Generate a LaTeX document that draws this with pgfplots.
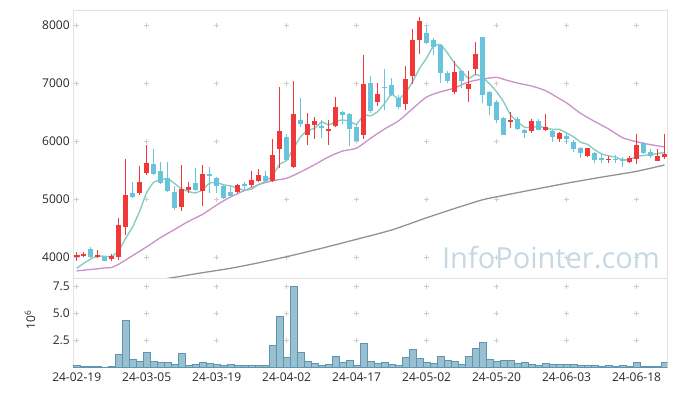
\documentclass[border=0pt]{standalone}
\usepackage{pgfplots}
\pgfplotsset{compat=1.18}
\usepackage{pgfplotstable}
\usepackage{fontspec}
\setmainfont{Open Sans}
\definecolor{upc}{RGB}{240,56,56}
\definecolor{dnc}{RGB}{104,196,218}
\definecolor{maf}{RGB}{136,204,194}
\definecolor{mam}{RGB}{204,144,200}
\definecolor{mal}{RGB}{146,146,146}
\definecolor{volf}{RGB}{152,192,208}
\definecolor{vole}{RGB}{95,150,175}
\definecolor{framec}{RGB}{226,226,226}
\definecolor{gridc}{RGB}{205,205,205}
\definecolor{wm}{RGB}{198,216,226}
\definecolor{txt}{RGB}{40,40,40}

\pgfplotstableread{
i o h l c
0 4000 4090 3930 4040
1 4035 4090 4000 4060
2 4150 4180 3990 4000
3 4020 4130 3990 4040
4 4010 4010 3940 3940
5 3970 4050 3930 4030
6 4000 4670 3960 4560
7 4520 5700 4390 5070
8 5100 5290 5020 5030
9 5110 5580 5080 5290
10 5450 5940 5420 5630
11 5600 5870 5410 5440
12 5490 5640 5260 5280
13 5360 5640 5130 5140
14 5130 5220 4820 4850
15 4860 5590 4800 5180
16 5160 5290 5100 5210
17 5280 5530 5150 5160
18 5140 5590 4880 5430
19 5440 5550 5100 5410
20 5370 5390 5110 5220
21 5230 5240 5000 5020
22 5130 5230 5050 5060
23 5130 5260 5110 5240
24 5260 5300 5140 5230
25 5240 5480 5210 5330
26 5320 5520 5300 5420
27 5400 5480 5290 5320
28 5320 6030 5290 5760
29 5860 6930 5540 6170
30 6070 6120 5650 5680
31 5560 7040 5540 6470
32 6370 6740 6240 6300
33 6110 6480 5940 6300
34 6280 6410 6040 6350
35 6260 6370 6050 6240
36 6170 6370 5940 6210
37 6265 6760 6250 6580
38 6500 6520 6290 6450
39 6460 6480 5910 6210
40 6240 6280 6000 6010
41 6110 7490 6030 6990
42 7010 7130 6480 6520
43 6680 7010 6600 6810
44 6930 7240 6540 6920
45 6970 7090 6770 6800
46 6740 6790 6550 6580
47 6640 7290 6540 7070
48 7120 7930 6990 7750
49 7740 8130 7500 8070
50 7870 7980 7680 7690
51 7750 7780 7490 7620
52 7650 7680 7000 7170
53 7180 7200 7010 7030
54 6840 7380 6810 7190
55 7210 7230 6910 7040
56 6900 7210 6670 6980
57 7240 7710 7140 7500
58 7790 7790 6650 6800
59 6840 6860 6450 6610
60 6670 6710 6320 6370
61 6400 6420 6110 6110
62 6340 6500 6220 6370
63 6390 6420 6190 6210
64 6190 6210 6060 6140
65 6180 6390 6140 6350
66 6350 6390 6190 6200
67 6200 6470 6170 6240
68 6170 6200 5990 6080
69 6030 6160 5990 6140
70 6090 6130 5950 6040
71 5980 6020 5820 5870
72 5880 5900 5710 5790
73 5740 5880 5730 5880
74 5800 5820 5620 5680
75 5710 5780 5620 5690
76 5670 5740 5620 5700
77 5700 5760 5630 5670
78 5700 5730 5550 5650
79 5640 5740 5620 5710
80 5690 6130 5610 5940
81 5960 5990 5780 5800
82 5820 5860 5710 5740
83 5660 5860 5650 5750
84 5720 6130 5700 5780
}\candles

\pgfplotstableread{
i v
0 0.16
1 0.06
2 0.06
3 0.06
4 0.01
5 0.02
6 1.18
7 4.35
8 0.72
9 0.53
10 1.37
11 0.53
12 0.44
13 0.44
14 0.25
15 1.28
16 0.16
17 0.25
18 0.44
19 0.34
20 0.25
21 0.16
22 0.25
23 0.16
24 0.16
25 0.16
26 0.16
27 0.16
28 2.02
29 4.73
30 0.90
31 7.53
32 1.37
33 0.53
34 0.34
35 0.16
36 0.25
37 1.00
38 0.44
39 0.62
40 0.16
41 2.21
42 0.53
43 0.34
44 0.44
45 0.25
46 0.16
47 0.90
48 1.65
49 0.81
50 0.44
51 0.34
52 1.00
53 0.62
54 0.53
55 0.25
56 1.00
57 1.74
58 2.30
59 0.72
60 0.53
61 0.62
62 0.62
63 0.34
64 0.44
65 0.25
66 0.16
67 0.34
68 0.25
69 0.25
70 0.25
71 0.25
72 0.16
73 0.16
74 0.16
75 0.06
76 0.16
77 0.06
78 0.16
79 0.06
80 0.44
81 0.06
82 0.06
83 0.06
84 0.44
}\volume

\pgfplotstableread{
i m
0 3810
1 3897
2 3970
3 4022
4 4016
5 4014
6 4114
7 4328
8 4526
9 4796
10 5116
11 5292
12 5334
13 5356
14 5268
15 5178
16 5132
17 5108
18 5166
19 5278
20 5286
21 5248
22 5228
23 5190
24 5154
25 5176
26 5256
27 5308
28 5412
29 5600
30 5670
31 5880
32 6076
33 6184
34 6220
35 6332
36 6280
37 6336
38 6366
39 6338
40 6292
41 6448
42 6436
43 6508
44 6650
45 6808
46 6726
47 6836
48 7024
49 7254
50 7432
51 7640
52 7660
53 7516
54 7340
55 7210
56 7082
57 7148
58 7102
59 6986
60 6852
61 6678
62 6452
63 6334
64 6240
65 6236
66 6254
67 6228
68 6202
69 6202
70 6140
71 6074
72 5984
73 5944
74 5852
75 5782
76 5748
77 5724
78 5678
79 5684
80 5734
81 5754
82 5768
83 5788
84 5802
}\mafive

\pgfplotstableread{
i m
0 3765
2 3790
4 3815
5 3825
6 3880
8 4030
10 4180
12 4340
14 4480
16 4620
18 4740
20 4900
22 5040
24 5150
26 5250
28 5320
30 5360
32 5470
34 5595
36 5730
38 5830
40 5880
42 6050
44 6210
46 6350
48 6560
50 6760
52 6850
54 6915
56 7020
58 7070
60 7100
61 7065
63 7000
65 6950
67 6870
69 6730
70 6660
72 6480
74 6340
76 6210
78 6060
80 5990
82 5940
84 5900
}\matwenty

\pgfplotstableread{
i m
12 3617
14 3655
18 3735
22 3810
26 3905
30 4010
35 4155
40 4310
45 4470
50 4680
54 4840
58 4990
61 5065
65 5160
70 5275
75 5380
80 5480
84 5590
}\malong

\pgfplotsset{
  chartbase/.style={
    scale only axis, width=594.1bp,
    xmin=-0.5, xmax=84.4,
    axis line style={draw=framec, line width=0.8bp},
    major tick length=0pt,
    tick label style={font=\fontsize{12bp}{14bp}\selectfont, text=txt},
    xtick={0,10,...,80},
    xmajorgrids, ymajorgrids,
    clip=true,
  },
  candle/.style={draw=none, mark=none, forget plot,
    error bars/.cd, y dir=both, y explicit, error mark=none,
    error bar style={line width=#1, line cap=butt}},
}

\begin{document}
\begin{tikzpicture}[x=1bp,y=1bp]
\path[use as bounding box] (0,0) rectangle (677,396);

% price panel
\begin{axis}[chartbase,
  at={(73.2bp,118bp)}, anchor=south west,
  height=268bp,
  ymin=3643, ymax=8259,
  ytick={4000,5000,6000,7000,8000},
  xticklabels={},
  /pgf/number format/1000 sep={},
  yticklabel style={/pgf/number format/assume math mode=true},
  x grid style={draw=gridc, line width=0.8bp, dash pattern=on 5bp off 53bp, dash phase=39.8bp},
  y grid style={draw=gridc, line width=0.8bp, dash pattern=on 5bp off 65bp, dash phase=69bp},
]
\node[anchor=base west, font=\fontsize{29bp}{30bp}\selectfont, text=wm] at (rel axis cs:0.615,0.037) {InfoPointer.com};

\addplot[mal, line width=1.3bp, smooth, tension=0.4] table[x=i,y=m] {\malong};
\addplot[mam, line width=1.3bp, smooth, tension=0.4] table[x=i,y=m] {\matwenty};
\addplot[maf, line width=1.4bp, smooth, tension=0.3] table[x=i,y=m] {\mafive};

% up candles (close >= open): wick, then body
\addplot[restrict expr to domain={\thisrow{c}-\thisrow{o}}{0:100000},
  candle=1.2bp, error bar style={draw=upc}]
  table[x=i, y expr={(\thisrow{h}+\thisrow{l})/2}, y error expr={(\thisrow{h}-\thisrow{l})/2}] {\candles};
\addplot[restrict expr to domain={\thisrow{c}-\thisrow{o}}{0:100000},
  candle=5.6bp, error bar style={draw=upc}]
  table[x=i, y expr={(\thisrow{o}+\thisrow{c})/2}, y error expr={max(abs(\thisrow{c}-\thisrow{o})/2,12)}] {\candles};
% down candles
\addplot[restrict expr to domain={\thisrow{o}-\thisrow{c}}{0.5:100000},
  candle=1.2bp, error bar style={draw=dnc}]
  table[x=i, y expr={(\thisrow{h}+\thisrow{l})/2}, y error expr={(\thisrow{h}-\thisrow{l})/2}] {\candles};
\addplot[restrict expr to domain={\thisrow{o}-\thisrow{c}}{0.5:100000},
  candle=5.6bp, error bar style={draw=dnc}]
  table[x=i, y expr={(\thisrow{o}+\thisrow{c})/2}, y error expr={max(abs(\thisrow{c}-\thisrow{o})/2,12)}] {\candles};
\end{axis}

% volume panel
\begin{axis}[chartbase,
  at={(73.2bp,29bp)}, anchor=south west,
  height=89bp,
  ymin=0, ymax=8.3,
  ytick={2.5,5,7.5},
  yticklabels={2.5,5.0,7.5},
  xticklabels={24-02-19,24-03-05,24-03-19,24-04-02,24-04-17,24-05-02,24-05-20,24-06-03,24-06-18},
  xticklabel style={yshift=-2bp},
  x grid style={draw=gridc, line width=0.8bp, dash pattern=on 5bp off 21.8bp, dash phase=2.5bp},
  y grid style={draw=gridc, line width=0.8bp, dash pattern=on 5bp off 65bp, dash phase=69bp},
]
\addplot[ybar, bar width=1, fill=volf, draw=vole, line width=0.7bp] table[x=i,y=v] {\volume};
\end{axis}

\node[rotate=90, font=\fontsize{12bp}{14bp}\selectfont, text=txt] at (30,76) {10\textsuperscript{6}};
\end{tikzpicture}
\end{document}
